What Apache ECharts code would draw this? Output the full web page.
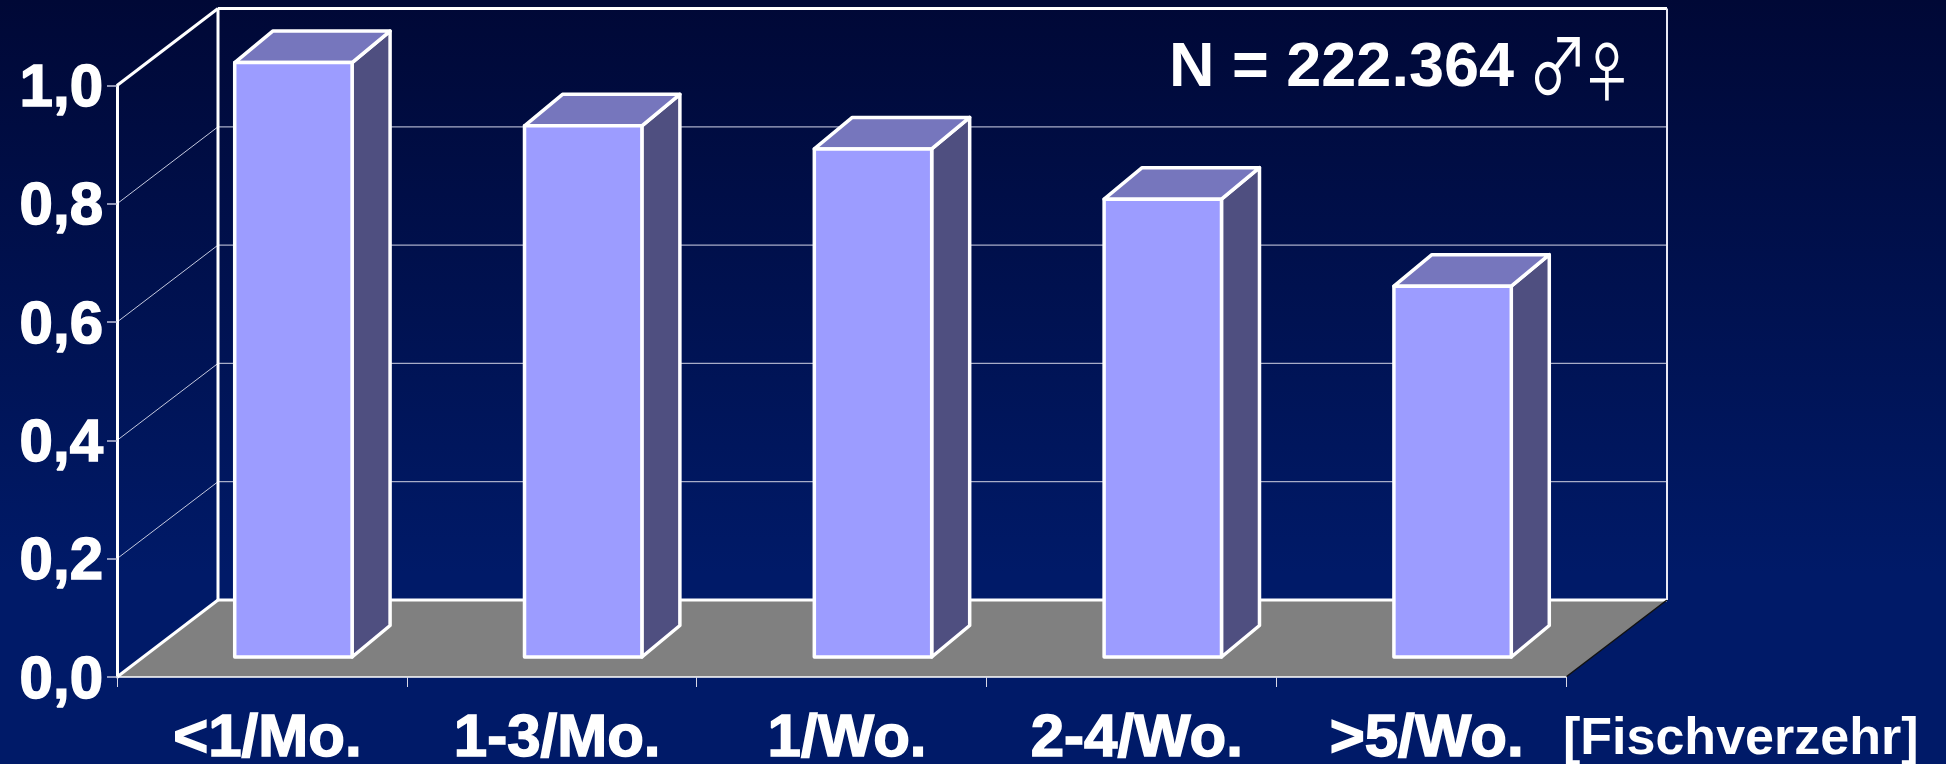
<!DOCTYPE html>
<html><head><meta charset="utf-8">
<style>html,body{margin:0;padding:0;background:#000c3c}#c{width:1946px;height:764px}</style>
<script src="https://cdn.jsdelivr.net/npm/echarts@6/dist/echarts.min.js"></script>
</head><body><div id="c"></div>
<script>
const categories = ['<1/Mo.', '1-3/Mo.', '1/Wo.', '2-4/Wo.', '>5/Wo.'];
const values = [1.005, 0.898, 0.859, 0.774, 0.627];
const yTicks = [0, 0.2, 0.4, 0.6, 0.8, 1.0];
const annotation = 'N = 222.364';
const symbolMale = '♂';
const symbolFemale = '♀';
const xAxisTitle = '[Fischverzehr]';

const WHITE = '#ffffff';
const wallDepth = [101, -77];
const barShift = [31.5, -20];
const barDepth = [38, -31.5];
const font = '"Liberation Sans", Arial, sans-serif';

function poly(points, fill, stroke, width) {
  return { type: 'polygon', shape: { points }, style: { fill, stroke, lineWidth: width, lineJoin: 'round' } };
}
function line(a, b, stroke, width) {
  return { type: 'line', shape: { x1: a[0], y1: a[1], x2: b[0], y2: b[1] }, style: { stroke, lineWidth: width } };
}

function renderWalls(params, api) {
  const cs = params.coordSys;
  const [dx, dy] = wallDepth;
  const left = cs.x, right = cs.x + cs.width;
  const y = api.coord([0, api.value(0)])[1];
  const v = api.value(0);
  const kids = [];
  if (v === 0) {
    kids.push(poly([[left, y], [left + dx, y + dy], [right + dx, y + dy], [right, y]], '#808080', 'none', 0));
    kids.push(line([left, y], [left + dx, y + dy], WHITE, 3));
    kids.push(line([left + dx, y + dy], [right + dx, y + dy], WHITE, 3));
    kids.push(line([right, y], [right + dx, y + dy], '#111111', 1.5));
  } else if (v === 1) {
    kids.push(line([left, y], [left + dx, y + dy], WHITE, 3));
    kids.push(line([left + dx, y + dy], [right + dx, y + dy], WHITE, 3));
    const yb = api.coord([0, 0])[1];
    kids.push(line([left + dx, y + dy], [left + dx, yb + dy], WHITE, 3));
    kids.push(line([right + dx, y + dy], [right + dx, yb + dy], '#e8e8f4', 2));
  } else {
    kids.push(line([left, y], [left + dx, y + dy], '#c4c8de', 1));
    kids.push(line([left + dx, y + dy], [right + dx, y + dy], '#a8adc8', 1.2));
  }
  return { type: 'group', children: kids };
}

function renderBar(params, api) {
  const band = api.size([1, 0])[0];
  const w = band * 0.405;
  const top = api.coord([api.value(0), api.value(1)]);
  const base = api.coord([api.value(0), 0]);
  const x0 = top[0] + barShift[0] - w / 2, x1 = x0 + w;
  const yT = top[1] + barShift[1], yB = base[1] + barShift[1];
  const [dx, dy] = barDepth;
  return {
    type: 'group',
    children: [
      poly([[x1, yT], [x1 + dx, yT + dy], [x1 + dx, yB + dy], [x1, yB]], '#4f4f80', WHITE, 3.5),
      poly([[x0, yT], [x0 + dx, yT + dy], [x1 + dx, yT + dy], [x1, yT]], '#7676bd', WHITE, 3.5),
      poly([[x0, yT], [x1, yT], [x1, yB], [x0, yB]], '#9c9cff', WHITE, 3.5)
    ]
  };
}

const symbolFont = '48px "Noto Sans CJK JP"';
const chart = echarts.init(document.getElementById('c'), null, { renderer: 'canvas' });
chart.setOption({
  animation: false,
  backgroundColor: new echarts.graphic.LinearGradient(0, 0, 0, 1, [
    { offset: 0, color: '#000836' },
    { offset: 0.75, color: '#001a68' },
    { offset: 1, color: '#001a68' }
  ]),
  title: [
    { text: annotation, left: 1169, top: 37, padding: 0,
      textStyle: { color: WHITE, fontFamily: font, fontWeight: 'bold', fontSize: 63 } },
    { text: xAxisTitle, left: 1563, top: 714, padding: 0,
      textStyle: { color: WHITE, fontFamily: font, fontWeight: 'bold', fontSize: 52 } }
  ],
  graphic: [
    { type: 'text', x: 1558, y: 66, scaleX: 1.25, scaleY: 1.6, z: 10,
      style: { text: symbolMale, font: symbolFont, fill: WHITE, textAlign: 'center', textVerticalAlign: 'middle' } },
    { type: 'text', x: 1607, y: 71, scaleX: 1.1, scaleY: 1.35, z: 10,
      style: { text: symbolFemale, font: symbolFont, fill: WHITE, textAlign: 'center', textVerticalAlign: 'middle' } }
  ],
  grid: { left: 117, top: 85.5, width: 1449, height: 591.5, containLabel: false, outerBoundsMode: 'none' },
  xAxis: {
    type: 'category', data: categories, z: 5,
    axisLine: { lineStyle: { color: WHITE, width: 1.5 } },
    axisTick: { show: true, length: 10, lineStyle: { color: '#d8d8e8', width: 1 } },
    axisLabel: { color: WHITE, fontFamily: font, fontWeight: 'bold', fontSize: 60, margin: 32, interval: 0,
      padding: [0, 0, 0, 11], textBorderColor: WHITE, textBorderWidth: 1.5 }
  },
  yAxis: {
    type: 'value', min: 0, max: 1, interval: 0.2, z: 5,
    axisLine: { show: true, lineStyle: { color: WHITE, width: 3 } },
    axisTick: { show: true, length: 10, lineStyle: { color: '#c0c4dc', width: 1.5 } },
    splitLine: { show: false },
    axisLabel: { color: WHITE, fontFamily: font, fontWeight: 'bold', fontSize: 60, margin: 14,
      verticalAlign: 'top', lineHeight: 8, textBorderColor: WHITE, textBorderWidth: 1.5,
      formatter: v => v.toFixed(1).replace('.', ',') }
  },
  series: [
    { type: 'custom', name: 'walls', z: 1, silent: true, clip: false, renderItem: renderWalls,
      coordinateSystem: 'cartesian2d', encode: { y: 0 }, data: yTicks.map(v => [v]) },
    { type: 'custom', name: 'Fischverzehr', z: 3, silent: true, clip: false, renderItem: renderBar,
      coordinateSystem: 'cartesian2d', encode: { x: 0, y: 1 },
      data: categories.map((c, i) => [i, values[i]]) }
  ]
});
</script></body></html>
